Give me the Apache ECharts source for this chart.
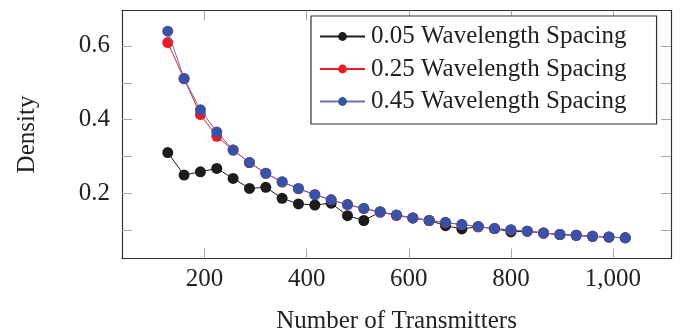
<!DOCTYPE html>
<html>
<head>
<meta charset="utf-8">
<script src="https://cdn.jsdelivr.net/npm/echarts@6/dist/echarts.min.js"></script>
<style>html,body{margin:0;padding:0;background:#fff;overflow:hidden;}#c{width:686px;height:330px;}</style>
</head>
<body>
<div id="c"></div>
<script>
const xValues = [128,160,192,224,256,288,320,352,384,416,448,480,512,544,576,608,640,672,704,736,768,800,832,864,896,928,960,992,1024];
const spacing005 = [0.311,0.250,0.259,0.268,0.241,0.214,0.217,0.187,0.172,0.169,0.174,0.140,0.127,0.150,0.141,0.134,0.127,0.113,0.104,0.110,0.105,0.096,0.098,0.093,0.089,0.087,0.084,0.082,0.080];
const spacing025 = [0.609,0.511,0.414,0.355,0.318,0.284,0.255,0.231,0.213,0.197,0.183,0.170,0.159,0.150,0.141,0.134,0.127,0.121,0.116,0.110,0.105,0.101,0.098,0.093,0.089,0.087,0.084,0.082,0.080];
const spacing045 = [0.640,0.512,0.427,0.367,0.318,0.284,0.255,0.232,0.214,0.197,0.183,0.170,0.160,0.151,0.142,0.134,0.127,0.122,0.116,0.111,0.105,0.102,0.098,0.093,0.089,0.087,0.084,0.082,0.080];
const seriesNames = ['0.05 Wavelength Spacing','0.25 Wavelength Spacing','0.45 Wavelength Spacing'];
const xTicks = [200,400,600,800,1000];
const yTicks = [0.1,0.2,0.3,0.4,0.5,0.6];
const yLabels = [0.2,0.4,0.6];

const FONT = 'Liberation Serif';
const colors = ['#1c1c1c','#ec1c24','#3a52a5'];
const lineColors = ['#1c1c1c','#ec1c24','#6a6fb8'];
const datasets = [spacing005, spacing025, spacing045];

const chart = echarts.init(document.getElementById('c'), null, {renderer:'canvas'});
const xRange = {min:38.4, max:1113.6};
const yRange = {min:0.024, max:0.696};
const tickStyle = {show:true, inside:true, length:10, lineStyle:{color:'#a8a8a8', width:1}};
const lineStyleAxis = {show:true, onZero:false, lineStyle:{color:'#333', width:1.2}};

chart.setOption({
  animation:false,
  backgroundColor:'#fff',
  textStyle:{fontFamily:FONT},
  grid:{left:122, right:15, top:10.5, bottom:71.5, containLabel:false, outerBoundsMode:'none'},
  legend:{
    left:311, top:16,
    orient:'vertical',
    data:seriesNames,
    itemWidth:45, itemHeight:11, itemGap:7.5,
    padding:[8,30,10,8],
    borderColor:'#333', borderWidth:1.2, borderRadius:0,
    backgroundColor:'#fff',
    textStyle:{fontFamily:FONT, fontSize:25, color:'#222', padding:[0,0,0,1]}
  },
  xAxis:[{
    type:'value', position:'bottom', ...xRange,
    axisLine:lineStyleAxis,
    axisTick:{...tickStyle, customValues:xTicks},
    splitLine:{show:false},
    axisLabel:{customValues:xTicks, fontFamily:FONT, fontSize:25, color:'#222', margin:8,
      formatter:v=>v>=1000?(Math.floor(v/1000)+','+String(v%1000).padStart(3,'0')):String(v)},
    name:'Number of Transmitters', nameLocation:'middle', nameGap:50,
    nameTextStyle:{fontFamily:FONT, fontSize:25, color:'#222'}
  },{
    type:'value', position:'top', ...xRange,
    axisLine:lineStyleAxis,
    axisTick:{...tickStyle, customValues:xTicks},
    splitLine:{show:false}, axisLabel:{show:false}
  }],
  yAxis:[{
    type:'value', position:'left', ...yRange,
    axisLine:lineStyleAxis,
    axisTick:{...tickStyle, customValues:yTicks},
    splitLine:{show:false},
    axisLabel:{customValues:yLabels, fontFamily:FONT, fontSize:25, color:'#222', margin:12,
      formatter:v=>v.toFixed(1)},
    name:'Density', nameLocation:'middle', nameGap:82, nameRotate:90,
    nameTextStyle:{fontFamily:FONT, fontSize:25, color:'#222'}
  },{
    type:'value', position:'right', ...yRange,
    axisLine:lineStyleAxis,
    axisTick:{...tickStyle, customValues:yTicks},
    splitLine:{show:false}, axisLabel:{show:false}
  }],
  series: datasets.map((d,i)=>({
    name:seriesNames[i], type:'line', xAxisIndex:0, yAxisIndex:0,
    data:xValues.map((x,j)=>[x,d[j]]),
    symbol:'circle', symbolSize:11,
    lineStyle:{color:lineColors[i], width:1},
    itemStyle:{color:colors[i]},
    z:2+i
  }))
});
</script>
</body>
</html>
